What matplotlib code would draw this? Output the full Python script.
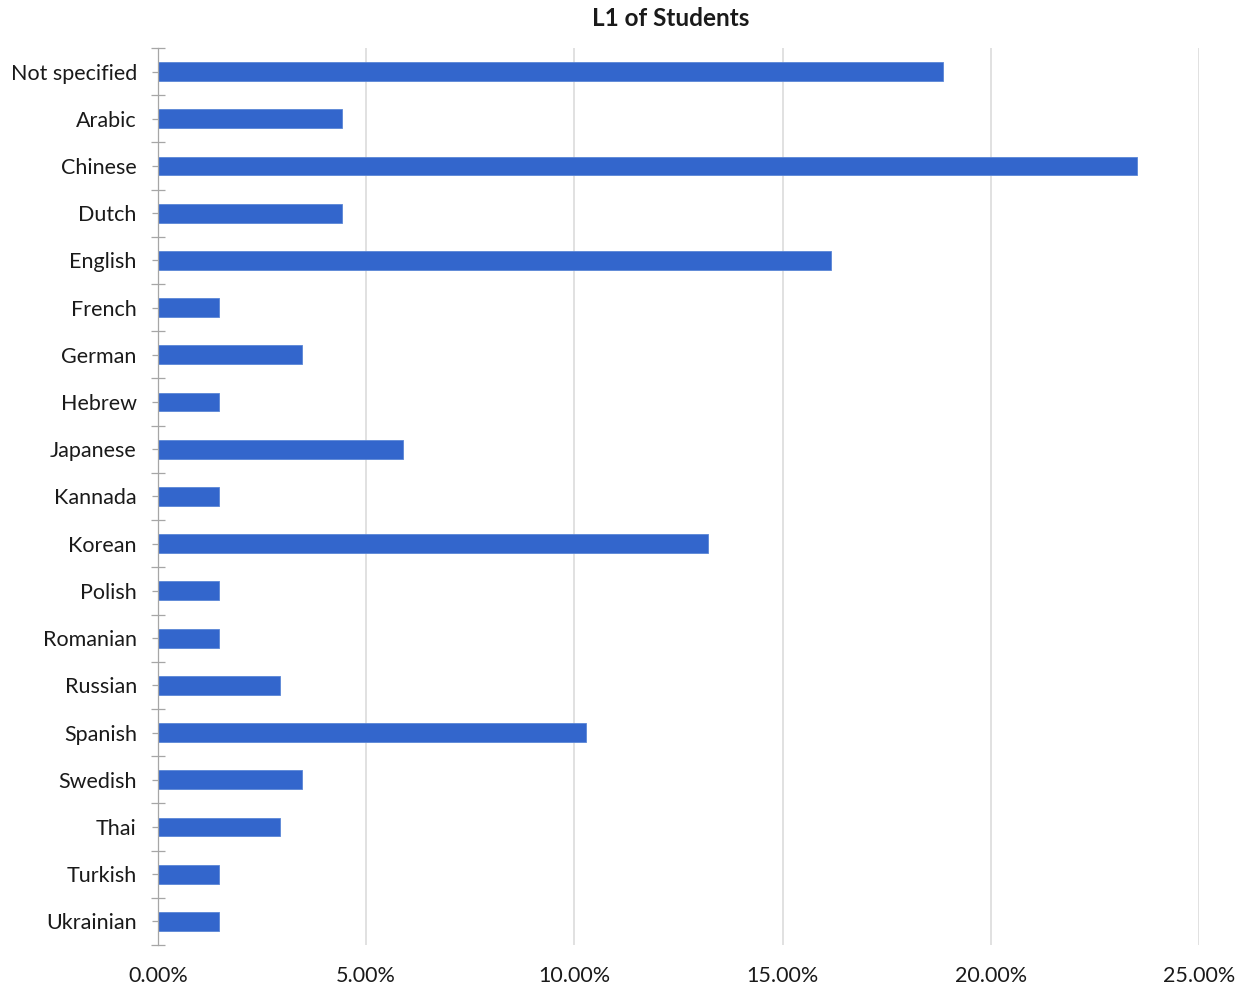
import matplotlib.pyplot as plt
from matplotlib.ticker import PercentFormatter

# L1 languages and share of students (%)
languages = ['Not specified', 'Arabic', 'Chinese', 'Dutch', 'English', 'French',
             'German', 'Hebrew', 'Japanese', 'Kannada', 'Korean', 'Polish',
             'Romanian', 'Russian', 'Spanish', 'Swedish', 'Thai', 'Turkish',
             'Ukrainian']
shares = [18.85, 4.41, 23.51, 4.41, 16.16, 1.47,
          3.45, 1.47, 5.88, 1.47, 13.22, 1.47,
          1.47, 2.94, 10.29, 3.45, 2.94, 1.47,
          1.47]
x_ticks = [0, 5, 10, 15, 20, 25]

plt.rcParams['font.family'] = ['Lato', 'DejaVu Sans']

fig = plt.figure(figsize=(12.47, 9.89), dpi=100)
ax = fig.add_axes([0.1267, 0.0445, 0.8348, 0.907])

pos = list(range(len(languages)))
ax.barh(pos, shares, height=0.4, color='#3366cc', edgecolor='#5b86d6',
        linewidth=0.6, zorder=3)

ax.set_xlim(0, 25)
ax.set_ylim(len(languages) - 0.5, -0.5)

# vertical gridlines
ax.set_xticks(x_ticks)
ax.xaxis.set_major_formatter(PercentFormatter(decimals=2))
ax.grid(axis='x', color='#d9d9d9', linewidth=1.1, zorder=0)
ax.tick_params(axis='x', length=0, pad=15, labelsize=15.5, labelcolor='#1a1a1a')

# category labels at centers, boundary ticks as minor ticks
ax.set_yticks(pos)
ax.set_yticklabels(languages)
ax.set_yticks([p - 0.5 for p in pos] + [len(languages) - 0.5], minor=True)
ax.tick_params(axis='y', which='major', direction='inout', length=8.5,
               width=0.9, color='#a6a6a6', pad=11, labelsize=15.5,
               labelcolor='#1a1a1a')
ax.tick_params(axis='y', which='minor', direction='inout', length=10.5,
               width=0.9, color='#a6a6a6')

for side in ['top', 'right', 'bottom']:
    ax.spines[side].set_visible(False)
ax.spines['left'].set_color('#a6a6a6')
ax.spines['left'].set_linewidth(0.9)
ax.spines['left'].set_zorder(4)

fig.text(0.5375, 0.981, 'L1 of Students', ha='center', va='center',
         fontsize=17.5, fontweight='bold', color='#1a1a1a')

fig.savefig('out.png', dpi=100)
plt.close()
